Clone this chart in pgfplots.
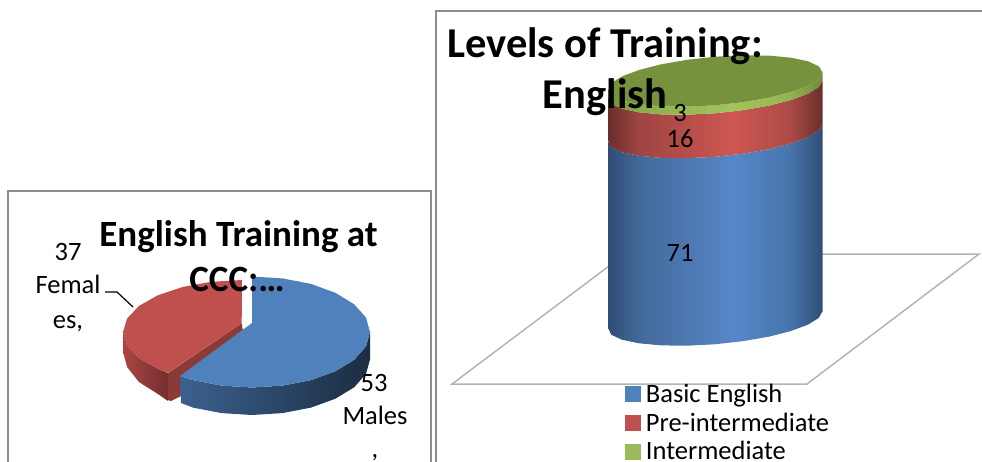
\documentclass[border=0pt]{standalone}
\usepackage{pgfplots}
\pgfplotsset{compat=1.18}
\usepackage{fontspec}
\setmainfont{Carlito}
\definecolor{frameg}{HTML}{8E8E8E}
\definecolor{floorg}{HTML}{B4B4B4}
\definecolor{lb}{HTML}{4F81BD}
\definecolor{lr}{HTML}{C0504D}
\definecolor{lg}{HTML}{9BBB59}
\definecolor{gt}{HTML}{76923C}
\pgfdeclarehorizontalshading{cylblue}{100bp}{rgb(0bp)=(.184,.302,.459);rgb(25bp)=(.184,.302,.459);rgb(32bp)=(.26,.41,.6);rgb(54bp)=(.341,.529,.784);rgb(67bp)=(.28,.46,.68);rgb(75bp)=(.184,.302,.459);rgb(100bp)=(.184,.302,.459)}
\pgfdeclarehorizontalshading{cylred}{100bp}{rgb(0bp)=(.42,.18,.17);rgb(25bp)=(.42,.18,.17);rgb(32bp)=(.62,.27,.26);rgb(54bp)=(.808,.337,.318);rgb(67bp)=(.68,.3,.28);rgb(75bp)=(.42,.18,.17);rgb(100bp)=(.42,.18,.17)}
\pgfdeclarehorizontalshading{cylgreen}{100bp}{rgb(0bp)=(.44,.55,.22);rgb(25bp)=(.44,.55,.22);rgb(32bp)=(.54,.68,.3);rgb(54bp)=(.64,.77,.36);rgb(67bp)=(.58,.71,.32);rgb(75bp)=(.44,.55,.22);rgb(100bp)=(.44,.55,.22)}
\begin{document}
\begin{tikzpicture}
\path[use as bounding box] (0,0) rectangle (982bp,462bp);
\begin{axis}[at={(0,0)},anchor=south west,scale only axis,width=982bp,height=462bp,
 xmin=0,xmax=982,ymin=0,ymax=462,y dir=reverse,hide axis,clip=false,
 legend style={at={(axis cs:625,382)},anchor=north west,draw=none,fill=none,font=\fontsize{26.5bp}{28.5bp}\selectfont,
   inner sep=0pt,outer sep=0pt,row sep=4.8bp,/tikz/every odd column/.style={column sep=3.5bp}},
 legend cell align=left]
\addlegendimage{legend image code/.code={\fill[lb] (0bp,-7.5bp) rectangle (15bp,7.5bp);}}
\addlegendimage{legend image code/.code={\fill[lr] (0bp,-7.5bp) rectangle (15bp,7.5bp);}}
\addlegendimage{legend image code/.code={\fill[lg] (0bp,-7.5bp) rectangle (15bp,7.5bp);}}
\legend{Basic English,Pre-intermediate,Intermediate}
% chart frames
\addplot[draw=frameg,line width=1.5bp] coordinates {(8,462) (8,191) (431,191) (431,462)};
\addplot[draw=frameg,line width=1.5bp] coordinates {(436,462) (436,11) (982,11)};
% floor
\addplot[draw=floorg,line width=1.5bp] coordinates {(452,384) (807,384) (979,254) (625,254)} -- cycle;
% cylinder: blue
\addplot[draw=none,shading=cylblue] coordinates {
(822.5,311.3)(818.8,317.9)(808.1,324.6)(791,331)(768.8,336.7)(742.8,341.2)(715,344.3)(687.2,345.7)(661.2,345.4)(639,343.3)(621.9,339.7)(611.2,334.7)(608.5,328.7)
(608.5,141.2)(611.2,147.2)(621.9,152.2)(639,155.8)(661.2,157.9)(687.2,158.2)(715,156.8)(742.8,153.7)(768.8,149.2)(791,143.5)(808.1,137.1)(818.8,130.4)(822.5,123.8)} -- cycle;
% red
\addplot[draw=none,shading=cylred] coordinates {
(822.5,123.8)(818.8,130.4)(808.1,137.1)(791,143.5)(768.8,149.2)(742.8,153.7)(715,156.8)(687.2,158.2)(661.2,157.9)(639,155.8)(621.9,152.2)(611.2,147.2)(608.5,141.2)
(608.5,97.7)(611.2,103.7)(621.9,108.7)(639,112.3)(661.2,114.4)(687.2,114.7)(715,113.3)(742.8,110.2)(768.8,105.7)(791,100)(808.1,93.6)(818.8,86.9)(822.5,80.3)} -- cycle;
% green band
\addplot[draw=none,shading=cylgreen] coordinates {
(822.5,80.3)(818.8,86.9)(808.1,93.6)(791,100)(768.8,105.7)(742.8,110.2)(715,113.3)(687.2,114.7)(661.2,114.4)(639,112.3)(621.9,108.7)(611.2,103.7)(608.5,97.7)
(608.5,89.7)(611.2,95.7)(621.9,100.7)(639,104.3)(661.2,106.4)(687.2,106.7)(715,105.3)(742.8,102.2)(768.8,97.7)(791,92)(808.1,85.6)(818.8,78.9)(822.5,72.3)} -- cycle;
% green top
\addplot[draw=none,fill=gt] coordinates {
(822.5,72.3)(818.8,78.9)(808.1,85.6)(791,92)(768.8,97.7)(742.8,102.2)(715,105.3)(687.2,106.7)(661.2,106.4)(639,104.3)(621.9,100.7)(611.2,95.7)(608.5,89.7)
(611.2,83.1)(621.9,76.4)(639,70)(661.2,64.3)(687.2,59.8)(715,56.7)(742.8,55.3)(768.8,55.6)(791,57.7)(808.1,61.3)(818.8,66.3)} -- cycle;
% pie: red side and wall
\addplot[draw=none,left color=lr!88!black,right color=lr!60!black] coordinates {
(123,332)(127.1,345.5)(138.9,358)(157.9,368.8)(168,373)(168,401)(157.9,394)(138.9,382)(127.1,367)(123,352)} -- cycle;
\addplot[draw=none,fill=lr!72!black] coordinates {
(241.7,323.3)(168,373)(168,400)(171,401)(181,396)(181,377)(243,331)} -- cycle;
\addplot[draw=none,fill=lr] coordinates {
(241.7,323.3)(168,372.7)(157.9,368.8)(138.9,358)(127.1,345.5)(123,332)(127.1,318.5)(138.9,306)(157.9,295.2)(182.5,287)(211.2,281.8)(242,280)} -- cycle;
% pie: blue side and top
\addplot[draw=none,left color=lb!75!black,right color=lb!35!black] coordinates {
(370,332)(366,346.4)(354.2,359.8)(335.4,371.2)(311,380.1)(282.5,385.6)(252,387.5)(221.5,385.6)(193,380.1)(180,376)
(181,403)(193,407.6)(221.5,413.1)(252,415)(282.5,413.1)(311,407.6)(335.4,398.7)(354.2,387.3)(366,373.9)(370,359.5)} -- cycle;
\addplot[draw=none,fill=lb] coordinates {
(252,323)(180,376)(193,380.1)(221.5,385.6)(252,387.5)(282.5,385.6)(311,380.1)(335.4,371.2)(354.2,359.8)(366,346.4)(370,332)(366,317.6)(354.2,304.3)(335.4,292.8)(311,283.9)(282.5,278.4)(252,276.5)} -- cycle;
% leader
\addplot[draw=black,line width=1.2bp] coordinates {(105,292)(117,292)(133,307)};
% text
\node[font=\fontsize{37bp}{37bp}\selectfont\bfseries,anchor=base] at (axis cs:238.5,246) {English Training at};
\node[font=\fontsize{37bp}{37bp}\selectfont\bfseries,anchor=base] at (axis cs:237,291) {CCC:\dots};
\node[font=\fontsize{42.5bp}{42.5bp}\selectfont\bfseries,anchor=base] at (axis cs:605,58) {Levels of Training:};
\node[font=\fontsize{42.5bp}{42.5bp}\selectfont\bfseries,anchor=base] at (axis cs:605,108) {English};
\foreach \t/\x/\y in {71/680/261,16/680/147,3/680/121,37/68/260,Femal/68/293,{es,}/68/328,53/374/391,Males/375/424,{,}/375/457}{
 \edef\temp{\noexpand\node[font=\noexpand\fontsize{26.5bp}{26.5bp}\noexpand\selectfont,anchor=base] at (axis cs:\x,\y) {\t};}\temp
}
\end{axis}
\end{tikzpicture}
\end{document}
